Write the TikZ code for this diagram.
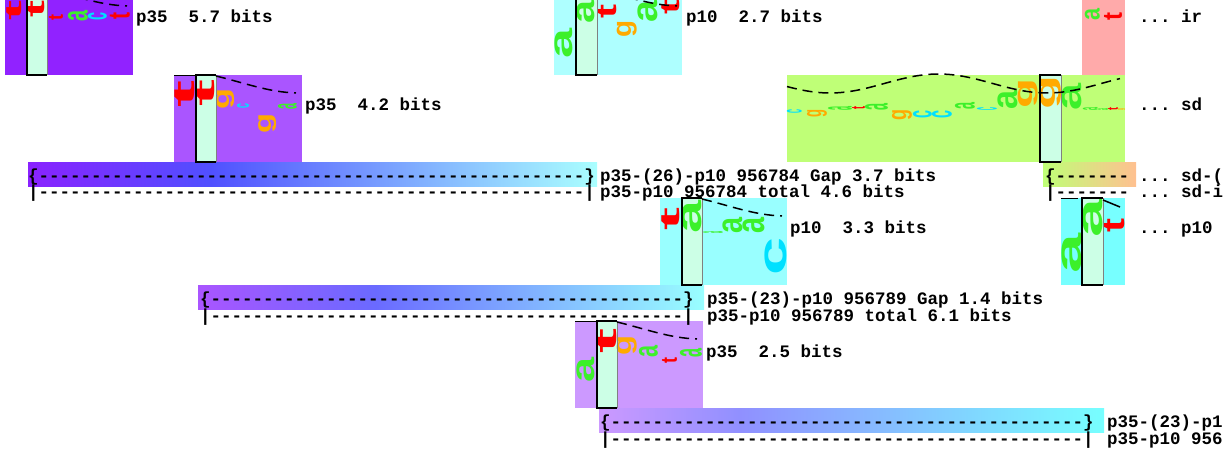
\documentclass[tikz,border=0pt]{standalone}
\usepackage{fontspec}
\usepackage{graphicx}
\setmonofont{Liberation Mono}
\newfontfamily\lgfont{Liberation Sans Bold}
\definecolor{lga}{HTML}{3CF02A}
\definecolor{lgc}{HTML}{00E0FF}
\definecolor{lgg}{HTML}{FFAA00}
\definecolor{lgt}{HTML}{FF0000}
\definecolor{colm}{HTML}{CCFFE6}
\definecolor{boxA}{HTML}{9122FF}
\definecolor{boxB}{HTML}{AA55FF}
\definecolor{boxC}{HTML}{AEFFFF}
\definecolor{boxD}{HTML}{FFAAAA}
\definecolor{boxE}{HTML}{BFFF77}
\definecolor{boxH}{HTML}{99FFFF}
\definecolor{boxI}{HTML}{77FFFF}
\definecolor{boxK}{HTML}{CC99FF}
\definecolor{fA}{HTML}{8A22FF}
\definecolor{fB}{HTML}{5050FF}
\definecolor{fC}{HTML}{AAFFFF}
\definecolor{jA}{HTML}{AA55FF}
\definecolor{jB}{HTML}{6A6AFF}
\definecolor{jC}{HTML}{99FFFF}
\definecolor{lA}{HTML}{CC99FF}
\definecolor{lB}{HTML}{9090FF}
\definecolor{lC}{HTML}{77FFFF}
\definecolor{gA}{HTML}{BFFF77}
\definecolor{gB}{HTML}{FFFF88}
\definecolor{gC}{HTML}{FFC090}
\newcount\lc
\newcommand\lt[5]{\global\advance\lc by 1\relax
  \node[inner sep=0pt, outer sep=0pt, anchor=south west] (lg\the\lc) at (#1,#2)
  {\rotatebox{90}{\resizebox*{#4pt}{#3pt}{\lgfont\color{lg#5}#5}}};}
\newcommand\dsh[1]{\foreach \k in {1,...,#1}{-}}
\newcommand\colm[4]{\fill[colm] (#1,#3) rectangle (#2,#4);}
\newcommand\colb[4]{\draw[black,line width=1.2pt] (#2,#3) -- (#1,#3) -- (#1,#4) -- (#2,#4);
  \draw[gray,line width=1pt] (#2,#3) -- (#2,#4);}
\begin{document}
\begin{tikzpicture}[x=1pt,y=-1pt,
  lab/.style={font=\ttfamily\bfseries\fontsize{17.5}{17.5}\selectfont, inner sep=0pt, outer sep=0pt, anchor=base west},
  curve/.style={black, line width=1.5pt, dash pattern=on 10pt off 6pt},
  solidtop/.style={black, line width=1.5pt}]
\useasboundingbox (0,0) rectangle (1226,458);
\fill[white] (0,0) rectangle (1226,458);
% boxes
\fill[boxA] (5,-12) rectangle (133,75);
\fill[boxB] (174,75) rectangle (302,162);
\fill[boxC] (554,-12) rectangle (682,75);
\fill[boxD] (1082,-12) rectangle (1125,75);
\fill[boxE] (787,75) rectangle (1125,162);
\fill[boxH] (660,198) rectangle (787,285);
\fill[boxI] (1061,198) rectangle (1125,285);
\fill[boxK] (575,321) rectangle (703,408);
\colm{27}{47}{-12}{75}
\colm{196}{216}{75}{162}
\colm{576}{597}{-12}{75}
\colm{1040}{1061}{75}{162}
\colm{682}{702}{198}{285}
\colm{1082}{1103}{198}{285}
\colm{597}{617}{321}{408}
% bars
\shade[left color=fA, right color=fB] (28,162) rectangle (211,186);
\shade[left color=fB, right color=fC] (210,162) rectangle (597,186);
\shade[left color=jA, right color=jB] (198,285) rectangle (376,309);
\shade[left color=jB, right color=jC] (375,285) rectangle (704,309);
\shade[left color=lA, right color=lB] (599,408) rectangle (741,432);
\shade[left color=lB, right color=lC] (740,408) rectangle (1104,432);
\shade[left color=gA, middle color=gB, right color=gC] (1043,162) rectangle (1136,186);
% letters box A
\lt{7}{20}{15}{20}{t}
\lt{28}{17}{17}{17}{t}
\lt{49}{20}{14}{6}{t}
\lt{68}{21}{20}{11}{a}
\lt{88}{20}{19}{8}{c}
\lt{110}{19}{20}{7}{t}
% box B
\lt{175}{107}{20}{27}{t}
\lt{197}{107}{18}{27}{t}
\lt{217}{109}{18}{21}{g}
\lt{237}{108}{12}{5}{c}
\lt{259}{133}{18}{20}{g}
\lt{278}{109}{19}{6}{a}
% box C
\lt{555}{58}{18}{30}{a}
\lt{577}{23}{18}{23}{a}
\lt{598}{19}{19}{14}{t}
\lt{617}{37}{20}{17}{g}
\lt{638}{22}{20}{22}{a}
\lt{662}{15}{18}{15}{t}
% box D
\lt{1085}{20}{15}{12}{a}
\lt{1104}{20}{18}{8}{t}
% box E
\lt{787}{113}{15}{4}{c}
\lt{807}{117}{20}{8}{g}
\lt{828}{110}{24}{4}{a}
\lt{852}{109}{13}{3}{t}
\lt{865}{110}{23}{7}{a}
\lt{892}{120}{20}{11}{g}
\lt{913}{118}{19}{8}{c}
\lt{932}{118}{20}{8}{c}
\lt{955}{109}{20}{7}{a}
\lt{977}{110}{20}{3}{c}
\lt{998}{109}{20}{19}{a}
\lt{1018}{108}{20}{30}{g}
\lt{1040}{109}{21}{34}{g}
\lt{1062}{110}{20}{27}{a}
\lt{1083}{110}{15}{3}{a}
\lt{1098}{110}{10}{2}{a}
\lt{1108}{110}{10}{3}{t}
\lt{1118}{110}{7}{2}{g}
% box H
\lt{662}{230}{18}{23}{t}
\lt{682}{233}{20}{33}{a}
\lt{703}{233}{20}{2}{a}
\lt{723}{233}{20}{16}{a}
\lt{743}{233}{22}{16}{a}
\lt{765}{275}{22}{38}{c}
% box I
\lt{1062}{273}{20}{40}{a}
\lt{1083}{237}{20}{39}{a}
\lt{1104}{232}{21}{14}{t}
% box K
\lt{577}{382}{18}{25}{a}
\lt{597}{353}{20}{25}{t}
\lt{617}{355}{20}{20}{g}
\lt{639}{357}{19}{12}{a}
\lt{662}{363}{15}{6}{t}
\lt{680}{357}{22}{9}{a}
% column borders
\colb{27}{47}{-12}{75}
\colb{196}{216}{75}{162}
\colb{576}{597}{-12}{75}
\colb{1040}{1061}{75}{162}
\colb{682}{702}{198}{285}
\colb{1082}{1103}{198}{285}
\colb{597}{617}{321}{408}
% top lines and curves
\draw[solidtop] (174,75.5) -- (196,75.5);
\draw[solidtop] (575,321.5) -- (597,321.5);
\draw[solidtop] (1061,198.5) -- (1078,198.5);
\draw[curve] (47,-11) .. controls (76,-4) and (99,5) .. (127,6);
\draw[curve] (216,76) .. controls (245,83) and (268,92) .. (296,93);
\draw[curve] (597,-11) .. controls (626,-4) and (649,5) .. (677,6);
\draw[curve] (702,199) .. controls (731,206) and (754,215) .. (782,216);
\draw[curve] (617,322) .. controls (646,329) and (669,338) .. (697,339);
\draw[solidtop] (1103,200) -- (1120,207);
\draw[curve] plot[domain=0:333, samples=80] ({\x+787}, {83.5+9.5*cos(1.659*(\x-43))});
% labels
\node[lab] (labA) at (136,22) {p35\ \ 5.7 bits};
\node[lab] (labB) at (305,110) {p35\ \ 4.2 bits};
\node[lab] (labC) at (686,22) {p10\ \ 2.7 bits};
\node[lab] (labD) at (1139,22) {... ir};
\node[lab] (labE) at (1139,110) {... sd};
\node[lab] (barF1) at (28,181) {\{\dsh{52}\}};
\node[lab] (barF2) at (28,197) {|\dsh{52}|};
\node[lab] (labF1) at (600,181) {p35-(26)-p10 956784 Gap 3.7 bits};
\node[lab] (labF2) at (600,197) {p35-p10 956784 total 4.6 bits};
\node[lab] (barG1) at (1045,181) {\{\dsh{7}};
\node[lab] (barG2) at (1045,197) {|\dsh{7}};
\node[lab] (labG1) at (1139,181) {... sd-(};
\node[lab] (labG2) at (1139,197) {... sd-i};
\node[lab] (labH) at (790,233) {p10\ \ 3.3 bits};
\node[lab] (labI) at (1139,233) {... p10};
\node[lab] (barJ1) at (200,304) {\{\dsh{45}\}};
\node[lab] (barJ2) at (200,321) {|\dsh{45}|};
\node[lab] (labJ1) at (707,304) {p35-(23)-p10 956789 Gap 1.4 bits};
\node[lab] (labJ2) at (707,321) {p35-p10 956789 total 6.1 bits};
\node[lab] (labK) at (706,357) {p35\ \ 2.5 bits};
\node[lab] (barL1) at (600,427) {\{\dsh{45}\}};
\node[lab] (barL2) at (600,444) {|\dsh{45}|};
\node[lab] (labL1) at (1107,427) {p35-(23)-p1};
\node[lab] (labL2) at (1107,444) {p35-p10 956};
\end{tikzpicture}
\end{document}
